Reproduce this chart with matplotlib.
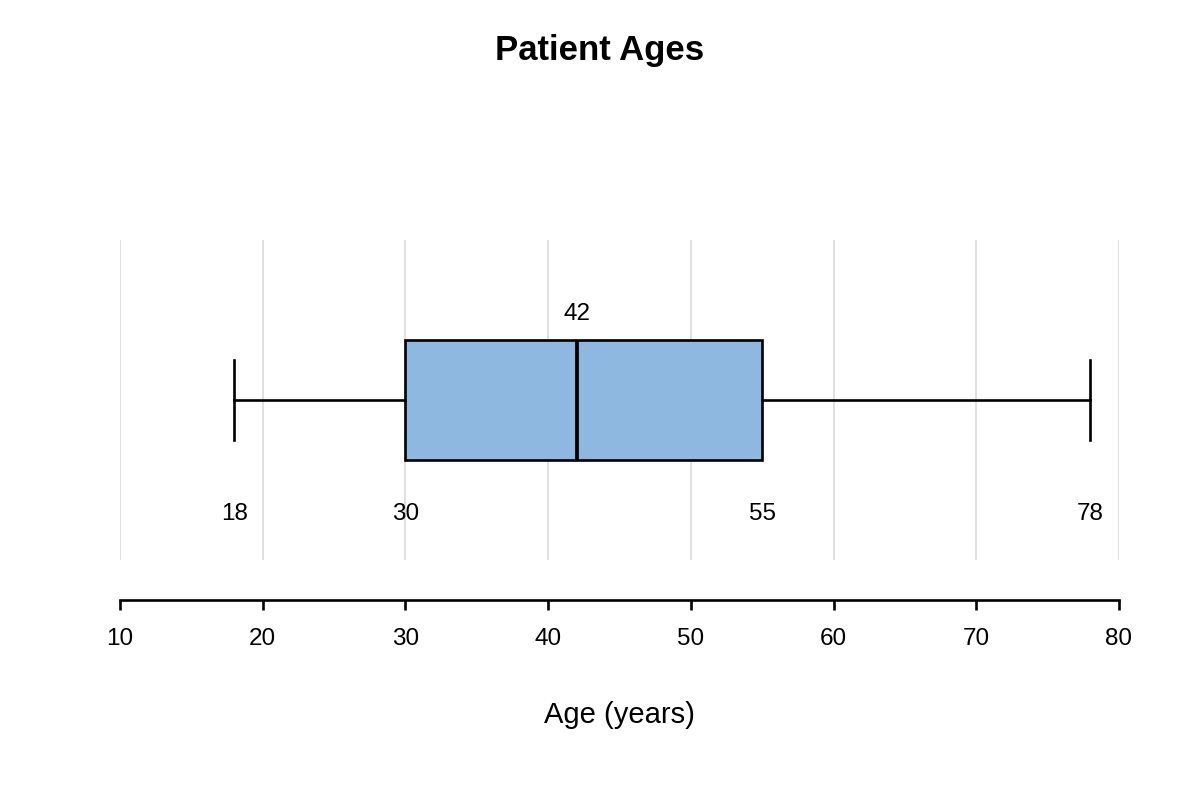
import matplotlib.pyplot as plt

plt.rcParams['font.family'] = ['Liberation Sans', 'DejaVu Sans']

# five-number summary of patient ages
labels = ['Patients']
age_min = [18]
age_q1 = [30]
age_median = [42]
age_q3 = [55]
age_max = [78]
xticks = [10, 20, 30, 40, 50, 60, 70, 80]

stats = []
for i in range(len(labels)):
    stats.append({'label': labels[i], 'whislo': age_min[i], 'q1': age_q1[i],
                  'med': age_median[i], 'q3': age_q3[i], 'whishi': age_max[i],
                  'fliers': []})

fig = plt.figure(figsize=(12, 8), dpi=100)
ax = fig.add_axes([0.1, 0.3, 0.8325, 0.4])

ax.bxp(stats, positions=[1], vert=False, widths=0.375, capwidths=0.25,
       patch_artist=True, showfliers=False,
       boxprops=dict(facecolor='#8fb8e0', edgecolor='black', linewidth=1.9),
       medianprops=dict(color='black', linewidth=2.7),
       whiskerprops=dict(color='black', linewidth=1.9),
       capprops=dict(color='black', linewidth=1.9))

# value labels
ax.text(age_median[0], 1.27, str(age_median[0]), ha='center', va='center', fontsize=17.5)
for v in [age_min[0], age_q1[0], age_q3[0], age_max[0]]:
    ax.text(v, 0.645, str(v), ha='center', va='center', fontsize=17.5)

ax.set_xlim(10, 80)
ax.set_ylim(0.5, 1.5)
ax.set_xticks(xticks)
ax.set_yticks([])
ax.grid(True, axis='x', color='#dddddd', linewidth=1.3)
ax.set_axisbelow(True)

for s in ['top', 'right', 'left']:
    ax.spines[s].set_visible(False)
ax.spines['bottom'].set_position(('outward', 29))
ax.spines['bottom'].set_linewidth(1.9)
ax.tick_params(axis='x', length=7, width=1.9, labelsize=17.5, pad=13)

ax.set_xlabel('Age (years)', fontsize=21, labelpad=37)
fig.suptitle('Patient Ages', fontsize=25, fontweight='bold', y=0.958)

fig.savefig('out.png', dpi=100)
